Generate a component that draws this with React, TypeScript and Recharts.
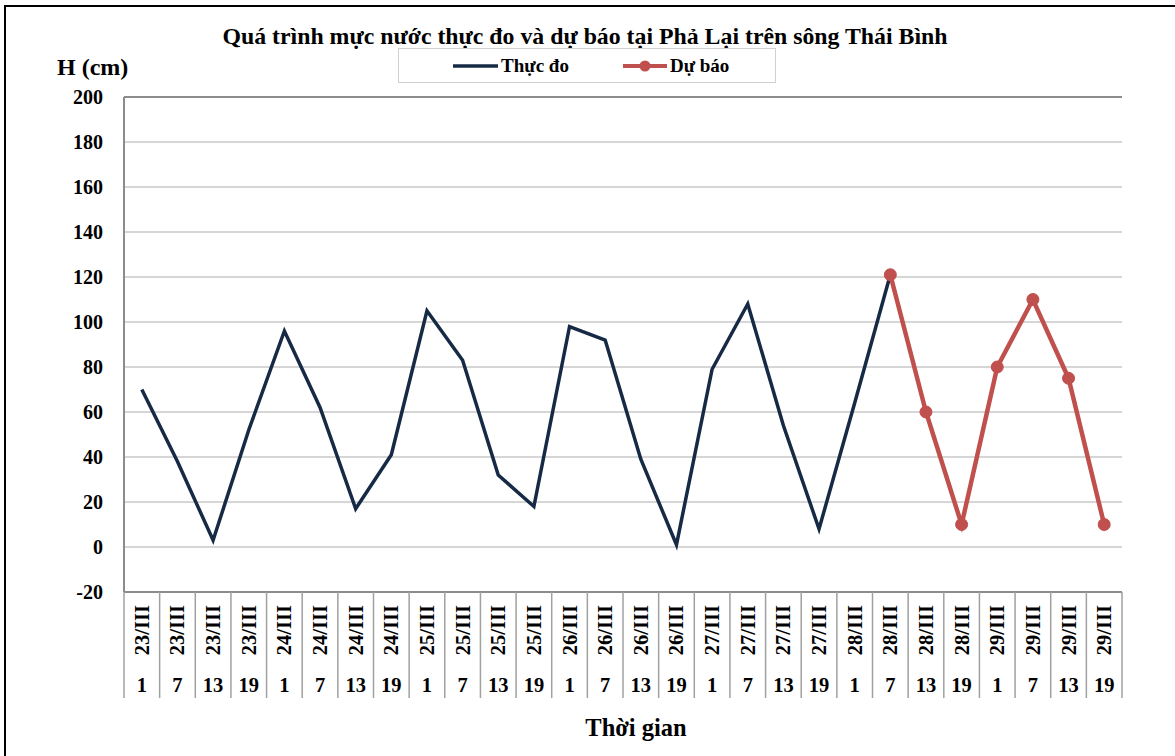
import { LineChart, Line, XAxis, YAxis, CartesianGrid, ReferenceLine, Legend } from "recharts";

// thời điểm quan trắc: ngày x giờ
const days = ["23/III", "24/III", "25/III", "26/III", "27/III", "28/III", "29/III"];
const hours = ["1", "7", "13", "19"];

// mực nước thực đo (cm)
const observed: (number | null)[] = [
	70, 38, 3, 52, 96, 62, 17, 41, 105, 83, 32, 18, 98, 92, 39, 1, 79, 108, 54, 8, 64, 121,
	null, null, null, null, null, null,
];
// mực nước dự báo (cm)
const forecast: (number | null)[] = [
	null, null, null, null, null, null, null, null, null, null, null, null, null, null, null,
	null, null, null, null, null, null, 121, 60, 10, 80, 110, 75, 10,
];
const yTicks = [-20, 0, 20, 40, 60, 80, 100, 120, 140, 160, 180, 200];

const categories = days.flatMap((d) => hours.map((h) => ({ date: d, hour: h })));
const data = categories.map((c, i) => ({
	label: `${c.date} ${c.hour}`,
	observed: observed[i],
	forecast: forecast[i],
}));

const W = 1175;
const H = 756;
const PLOT_LEFT = 124;
const PLOT_RIGHT = 1122;
const PLOT_TOP = 97;
const PLOT_BOTTOM = 592;
const Y_AXIS_W = 60;
const X_AXIS_H = 106;
const BAND = (PLOT_RIGHT - PLOT_LEFT) / categories.length;

const FONT = "'Liberation Serif', 'Times New Roman', serif";
const NAVY = "#172a45";
const RED = "#c0504d";
const BORDER = "#8c8c8c";

function TimeTick(props: any) {
	const { x, y, index } = props;
	const c = categories[index];
	if (!c) return null;
	const left = x - BAND / 2;
	return (
		<g>
			<line x1={left} y1={y} x2={left} y2={y + X_AXIS_H} stroke="#a0a0a0" strokeWidth={1.5} />
			{index === categories.length - 1 && (
				<line x1={x + BAND / 2} y1={y} x2={x + BAND / 2} y2={y + X_AXIS_H} stroke="#a0a0a0" strokeWidth={1.5} />
			)}
			<text
				transform={`translate(${x},${y + 13}) rotate(-90)`}
				textAnchor="end"
				dominantBaseline="central"
				fontFamily={FONT}
				fontWeight="bold"
				fontSize={20.5}
				fill="#000"
			>
				{c.date}
			</text>
			<text x={x} y={y + 100} textAnchor="middle" fontFamily={FONT} fontWeight="bold" fontSize={20.5} fill="#000">
				{c.hour}
			</text>
		</g>
	);
}

function LegendBox() {
	return (
		<div
			style={{
				width: 378,
				height: 35,
				boxSizing: "border-box",
				border: "1.5px solid #d0d0d0",
				background: "#fff",
				fontFamily: FONT,
				fontWeight: "bold",
				fontSize: 19,
				display: "flex",
				alignItems: "center",
			}}
		>
			<svg width={45} height={12} style={{ marginLeft: 54 }}>
				<line x1={0} y1={6} x2={45} y2={6} stroke={NAVY} strokeWidth={3.5} />
			</svg>
			<span style={{ marginLeft: 3 }}>Thực đo</span>
			<svg width={44} height={14} style={{ marginLeft: 54 }}>
				<line x1={0} y1={7} x2={44} y2={7} stroke={RED} strokeWidth={4} />
				<circle cx={22} cy={7} r={5.5} fill={RED} />
			</svg>
			<span style={{ marginLeft: 3 }}>Dự báo</span>
		</div>
	);
}

export default function App() {
	return (
		<div style={{ position: "absolute", left: 0, top: 0, width: W, height: H, background: "#fff", overflow: "hidden" }}>
			<div
				style={{
					position: "absolute",
					left: 4,
					top: 5,
					width: W + 10,
					height: H + 10,
					border: "2px solid #000",
				}}
			/>
			<div
				style={{
					position: "absolute",
					left: 0,
					width: 1170,
					top: 23,
					textAlign: "center",
					fontFamily: FONT,
					fontWeight: "bold",
					fontSize: 23.8,
				}}
			>
				Quá trình mực nước thực đo và dự báo tại Phả Lại trên sông Thái Bình
			</div>
			<div style={{ position: "absolute", left: 57, top: 54, fontFamily: FONT, fontWeight: "bold", fontSize: 24 }}>
				H (cm)
			</div>
			<div
				style={{
					position: "absolute",
					left: 0,
					width: 1272,
					top: 714,
					textAlign: "center",
					fontFamily: FONT,
					fontWeight: "bold",
					fontSize: 24.5,
				}}
			>
				Thời gian
			</div>
			<LineChart
				width={W}
				height={H}
				data={data}
				margin={{
					top: PLOT_TOP,
					right: W - PLOT_RIGHT,
					left: PLOT_LEFT - Y_AXIS_W,
					bottom: H - PLOT_BOTTOM - X_AXIS_H,
				}}
				style={{ position: "absolute", left: 0, top: 0 }}
			>
				<CartesianGrid vertical={false} stroke="#c8c8c8" strokeWidth={1.5} />
				<XAxis
					dataKey="label"
					interval={0}
					height={X_AXIS_H}
					padding={{ left: BAND / 2, right: BAND / 2 }}
					tick={<TimeTick />}
					tickLine={false}
					tickSize={0}
					tickMargin={0}
					axisLine={{ stroke: BORDER, strokeWidth: 2 }}
				/>
				<YAxis
					width={Y_AXIS_W}
					domain={[-20, 200]}
					ticks={yTicks}
					interval={0}
					tickLine={false}
					tickSize={0}
					tickMargin={21}
					axisLine={{ stroke: BORDER, strokeWidth: 2 }}
					tick={{ fill: "#000", fontSize: 20, fontWeight: "bold", fontFamily: FONT }}
				/>
				<YAxis
					yAxisId="frame"
					orientation="right"
					width={0}
					tick={false}
					tickLine={false}
					axisLine={{ stroke: BORDER, strokeWidth: 2 }}
				/>
				<ReferenceLine y={200} stroke={BORDER} strokeWidth={2} />
				<Legend
					layout="horizontal"
					align="center"
					verticalAlign="middle"
					wrapperStyle={{ position: "absolute", left: 398, top: 48, width: 378, height: 35 }}
					content={() => <LegendBox />}
				/>
				<Line
					type="linear"
					dataKey="observed"
					name="Thực đo"
					stroke={NAVY}
					strokeWidth={3.5}
					dot={false}
					activeDot={false}
					connectNulls={false}
					isAnimationActive={false}
				/>
				<Line
					type="linear"
					dataKey="forecast"
					name="Dự báo"
					stroke={RED}
					strokeWidth={4.5}
					dot={{ r: 6, fill: RED, stroke: RED, strokeWidth: 1 }}
					activeDot={false}
					connectNulls={false}
					isAnimationActive={false}
				/>
			</LineChart>
		</div>
	);
}
